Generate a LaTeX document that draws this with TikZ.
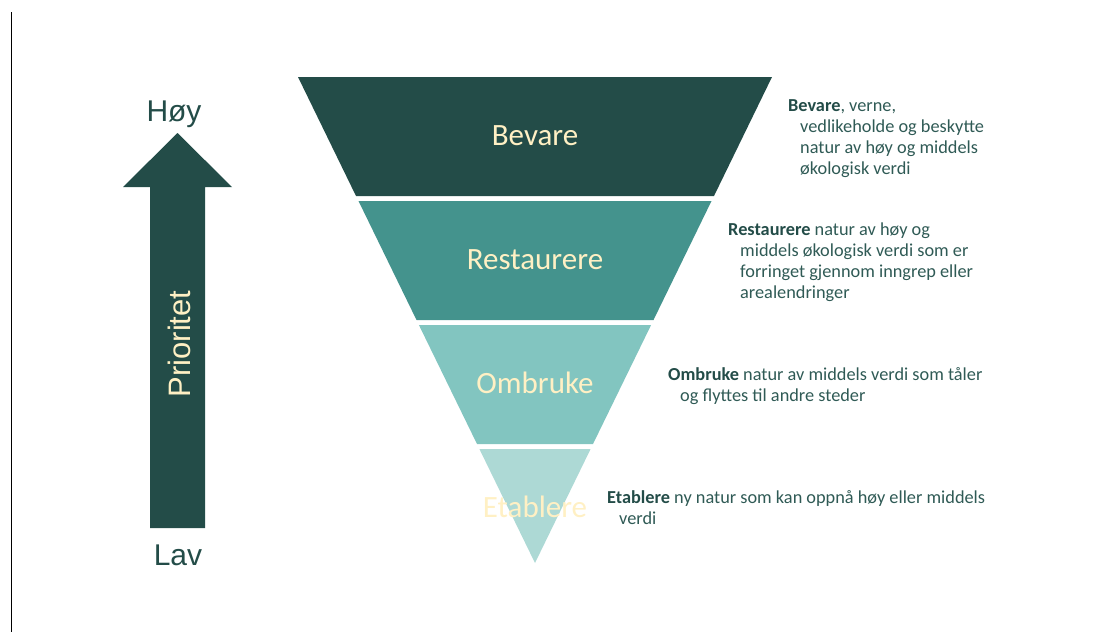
\documentclass[tikz,border=0pt]{standalone}
\usepackage{fontspec}
\setmainfont{Carlito}
\newfontfamily\arialf{Liberation Sans}
\definecolor{dark}{HTML}{234C48}
\definecolor{mid}{HTML}{44938D}
\definecolor{light}{HTML}{82C5C0}
\definecolor{pale}{HTML}{ADD9D5}
\definecolor{cream}{HTML}{FFF0C4}
\definecolor{txt}{HTML}{2F5A55}
\definecolor{boldtxt}{HTML}{234C48}
\begin{document}
\begin{tikzpicture}[x=1pt,y=-1pt,
  bandlabel/.style={text=cream,font=\fontsize{31}{36}\selectfont,inner sep=0pt},
  sidelabel/.style={text=dark,font=\arialf\fontsize{30}{34}\selectfont,inner sep=0pt},
  desc/.style={anchor=north west,align=left,inner sep=0pt,text=txt,font=\fontsize{18.3}{21}\selectfont}]
\useasboundingbox (0,0) rectangle (1109,632);
% left border line
\draw[black,line width=0.8pt] (11,12) -- (11,632);
% priority arrow
\fill[dark] (150,528) -- (150,187) -- (123,187) -- (177.5,133) -- (232,187) -- (205,187) -- (205,528) -- cycle;
\node[sidelabel] (hoy) at (174,114) {Høy};
\node[sidelabel] (lav) at (178,555) {Lav};
\node[text=cream,font=\arialf\fontsize{31}{36}\selectfont,inner sep=0pt,rotate=90] (prio) at (179,344) {Prioritet};
% funnel bands
\fill[dark] (298,77) -- (772,77) -- (714,196) -- (356,196) -- cycle;
\fill[mid] (358.5,201) -- (711.5,201) -- (653.5,320) -- (416.5,320) -- cycle;
\fill[light] (418.9,325) -- (651.1,325) -- (593,444) -- (477,444) -- cycle;
\fill[pale] (479.4,449) -- (590.6,449) -- (535,563) -- cycle;
\node[bandlabel] (bevare) at (535,136) {Bevare};
\node[bandlabel] (restaurere) at (535,260) {Restaurere};
\node[bandlabel] (ombruke) at (535,383) {Ombruke};
\node[bandlabel] (etablere) at (535,507) {Etablere};
% descriptions
\node[desc] (dBevare) at (788,96.3) {\strut\textcolor{boldtxt}{\textbf{Bevare}}, verne,\\\hspace*{12pt}vedlikeholde og beskytte\\\hspace*{12pt}natur av høy og middels\\\hspace*{12pt}økologisk verdi};
\node[desc] (dRestaurere) at (728,220.3) {\strut\textcolor{boldtxt}{\textbf{Restaurere}} natur av høy og\\\hspace*{12pt}middels økologisk verdi som er\\\hspace*{12pt}forringet gjennom inngrep eller\\\hspace*{12pt}arealendringer};
\node[desc] (dOmbruke) at (668,365.3) {\strut\textcolor{boldtxt}{\textbf{Ombruke}} natur av middels verdi som tåler\\\hspace*{12pt}og flyttes til andre steder};
\node[desc] (dEtablere) at (607,488.3) {\strut\textcolor{boldtxt}{\textbf{Etablere}} ny natur som kan oppnå høy eller middels\\\hspace*{12pt}verdi};
\end{tikzpicture}
\end{document}
